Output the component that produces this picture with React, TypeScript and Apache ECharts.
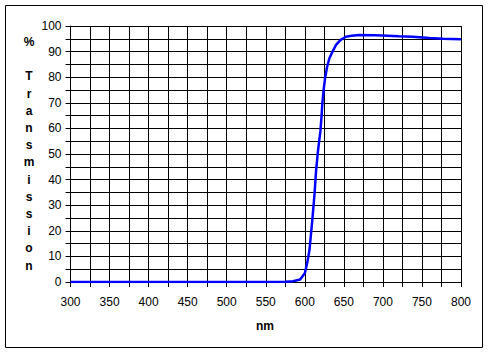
import React, { useEffect, useRef } from "react";
import * as echarts from "echarts";

const wavelengths = [300, 550, 575, 585, 594, 600, 603, 606, 608, 610, 612.5, 614.5, 617, 620, 621.5, 622.5, 624.5, 626, 628.5, 631.5, 635.5, 640, 645.5, 652.5, 660, 670, 690, 706, 720, 738, 760, 777, 800];
const transmission = [0, 0, 0.1, 0.3, 1, 3.4, 7.3, 12.5, 19, 25.5, 34.6, 43.7, 51.5, 59, 65, 70, 76, 79.7, 84, 87.4, 90, 92.6, 94.5, 95.8, 96.2, 96.5, 96.4, 96.2, 96, 95.8, 95.3, 95, 94.8];
const yTitle = ["%", "", "T", "r", "a", "n", "s", "m", "i", "s", "s", "i", "o", "n"];
const xTitle = "nm";

export default function App() {
  const ref = useRef<HTMLDivElement>(null);
  useEffect(() => {
    document.body.style.margin = "0";
    const chart = echarts.init(ref.current!, null, { renderer: "svg" });
    const font = "Arial, 'Liberation Sans', sans-serif";
    chart.setOption({
      animation: false,
      backgroundColor: "#fff",
      grid: { left: 70.5, right: 28, top: 26, bottom: 72 },
      xAxis: {
        type: "value",
        min: 300,
        max: 800,
        interval: 50,
        axisLine: { show: true, lineStyle: { color: "#000", width: 1 } },
        axisTick: { show: true, length: 5, lineStyle: { color: "#000" } },
        minorTick: { show: true, splitNumber: 2, length: 5, lineStyle: { color: "#000" } },
        splitLine: { show: true, lineStyle: { color: "#000", width: 1 } },
        minorSplitLine: { show: true, lineStyle: { color: "#000", width: 1 } },
        axisLabel: { color: "#000", fontFamily: font, fontSize: 12, margin: 14 },
      },
      yAxis: {
        type: "value",
        min: 0,
        max: 100,
        interval: 10,
        axisLine: { show: true, lineStyle: { color: "#000", width: 1 } },
        axisTick: { show: true, length: 5, lineStyle: { color: "#000" } },
        minorTick: { show: true, splitNumber: 2, length: 5, lineStyle: { color: "#000" } },
        splitLine: { show: true, lineStyle: { color: "#000", width: 1 } },
        minorSplitLine: { show: true, lineStyle: { color: "#000", width: 1 } },
        axisLabel: { color: "#000", fontFamily: font, fontSize: 12, margin: 9 },
      },
      graphic: [
        {
          type: "rect",
          shape: { x: 5.5, y: 5.5, width: 477, height: 342 },
          style: { fill: "none", stroke: "#000", lineWidth: 1 },
          silent: true,
        },
        ...yTitle.map((t, i) => ({
          type: "text",
          x: 29,
          y: 42 + i * 17.2,
          style: {
            text: t,
            fill: "#000",
            font: `bold 12px ${font}`,
            textAlign: "center",
            textVerticalAlign: "middle",
          },
        })),
        {
          type: "text",
          x: 265,
          y: 326,
          style: {
            text: xTitle,
            fill: "#000",
            font: `bold 12px ${font}`,
            textAlign: "center",
            textVerticalAlign: "middle",
          },
        },
      ],
      series: [
        {
          type: "line",
          data: wavelengths.map((w, i) => [w, transmission[i]]),
          showSymbol: false,
          lineStyle: { color: "#0000ff", width: 2.5 },
          z: 5,
        },
      ],
    });
    return () => chart.dispose();
  }, []);
  return <div ref={ref} style={{ width: 489, height: 354 }} />;
}
